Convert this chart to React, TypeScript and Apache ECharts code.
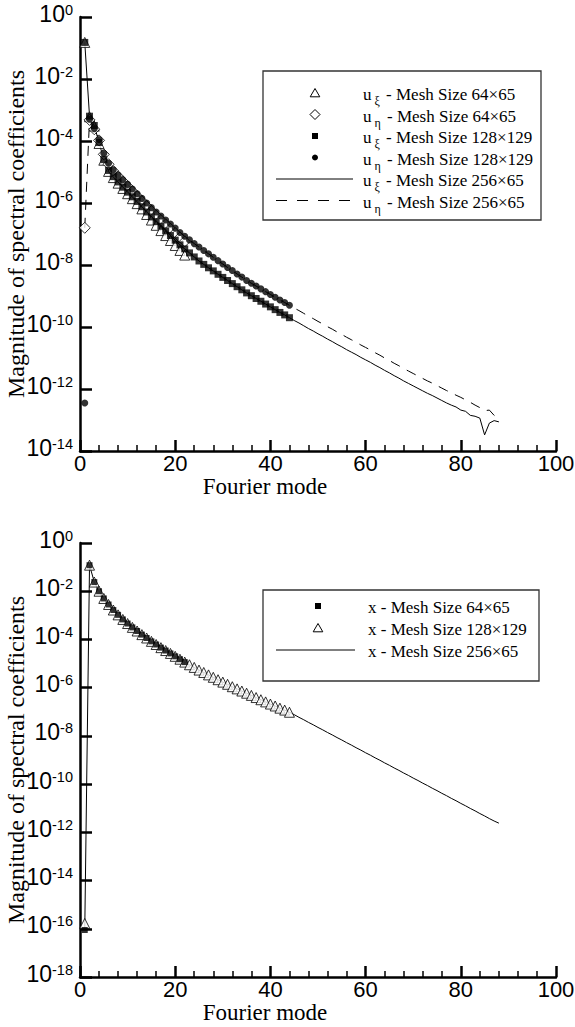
import React, { useEffect, useRef } from "react";
import * as echarts from "echarts";

// Values are log10 of the coefficient magnitude, indexed by Fourier mode 1, 2, 3, ...

// Upper panel: velocity components
const uXi256 = [
  -0.82, -3.2, -3.5, -4.05, -4.6, -4.95, -5.15, -5.32, -5.49, -5.65,
  -5.8, -5.95, -6.12, -6.29, -6.45, -6.6, -6.75, -6.9, -7.05, -7.2,
  -7.35, -7.48, -7.61, -7.74, -7.87, -7.98, -8.09, -8.19, -8.3, -8.4,
  -8.5, -8.6, -8.7, -8.8, -8.9, -8.99, -9.08, -9.17, -9.26, -9.35,
  -9.44, -9.53, -9.61, -9.7, -9.79, -9.87, -9.96, -10.05, -10.13, -10.22,
  -10.3, -10.39, -10.47, -10.56, -10.64, -10.73, -10.81, -10.89, -10.98, -11.06,
  -11.14, -11.23, -11.31, -11.4, -11.48, -11.57, -11.65, -11.74, -11.82, -11.9,
  -11.98, -12.06, -12.14, -12.21, -12.29, -12.37, -12.45, -12.52, -12.58, -12.68,
  -12.72, -12.85, -12.88, -12.94, -13.48, -13.1, -13.02, -13.06,
];
const uEta256 = [
  -6.8, -3.3, -3.6, -3.95, -4.4, -4.72, -4.93, -5.1, -5.25, -5.4,
  -5.55, -5.7, -5.85, -6.0, -6.15, -6.29, -6.42, -6.55, -6.68, -6.81,
  -6.95, -7.07, -7.19, -7.31, -7.42, -7.53, -7.64, -7.75, -7.86, -7.97,
  -8.08, -8.18, -8.29, -8.39, -8.5, -8.59, -8.68, -8.77, -8.86, -8.95,
  -9.04, -9.13, -9.21, -9.3, -9.39, -9.47, -9.56, -9.65, -9.73, -9.82,
  -9.9, -9.99, -10.07, -10.16, -10.24, -10.33, -10.41, -10.49, -10.58, -10.66,
  -10.74, -10.83, -10.91, -11.0, -11.08, -11.17, -11.25, -11.34, -11.42, -11.5,
  -11.58, -11.66, -11.74, -11.81, -11.89, -11.97, -12.05, -12.12, -12.2, -12.27,
  -12.35, -12.43, -12.52, -12.6, -12.7, -12.68, -12.85, -12.98,
];
const uXi128 = [
  -0.82, -3.2, -3.5, -4.05, -4.6, -4.95, -5.15, -5.32, -5.49, -5.65,
  -5.8, -5.95, -6.12, -6.29, -6.45, -6.6, -6.75, -6.9, -7.05, -7.2,
  -7.35, -7.48, -7.61, -7.74, -7.87, -7.98, -8.09, -8.19, -8.3, -8.4,
  -8.5, -8.6, -8.7, -8.8, -8.9, -8.99, -9.08, -9.17, -9.26, -9.35,
  -9.44, -9.53, -9.61, -9.7,
];
const uEta128 = [
  -12.45, -3.3, -3.6, -3.95, -4.4, -4.72, -4.93, -5.1, -5.25, -5.4,
  -5.55, -5.7, -5.85, -6.0, -6.15, -6.29, -6.42, -6.55, -6.68, -6.81,
  -6.95, -7.07, -7.19, -7.31, -7.42, -7.53, -7.64, -7.75, -7.86, -7.97,
  -8.08, -8.18, -8.29, -8.39, -8.5, -8.59, -8.68, -8.77, -8.86, -8.95,
  -9.04, -9.13, -9.21, -9.3,
];
const uXi64 = [
  -0.82, -3.22, -3.52, -4.08, -4.62, -4.98, -5.18, -5.36, -5.53, -5.7,
  -5.86, -6.02, -6.19, -6.37, -6.55, -6.72, -6.89, -7.05, -7.21, -7.37,
  -7.53, -7.68,
];
const uEta64 = [
  -6.8, -3.32, -3.62, -3.98, -4.43, -4.75, -4.97, -5.14, -5.3, -5.46,
  -5.62, -5.78, -5.94, -6.1, -6.26, -6.41, -6.55, -6.69, -6.83, -6.97,
  -7.11, -7.24,
];

// Lower panel: x coordinate
const x256 = [
  -16.05, -0.92, -1.62, -2.0, -2.3, -2.55, -2.78, -2.98, -3.17, -3.34,
  -3.5, -3.65, -3.8, -3.94, -4.08, -4.21, -4.34, -4.46, -4.58, -4.7,
  -4.82, -4.94, -5.05, -5.16, -5.27, -5.37, -5.47, -5.57, -5.67, -5.77,
  -5.86, -5.96, -6.05, -6.14, -6.23, -6.32, -6.41, -6.5, -6.59, -6.68,
  -6.76, -6.85, -6.93, -7.02, -7.12, -7.23, -7.33, -7.44, -7.54, -7.65,
  -7.75, -7.86, -7.96, -8.07, -8.17, -8.28, -8.38, -8.49, -8.59, -8.7,
  -8.8, -8.91, -9.01, -9.12, -9.22, -9.33, -9.43, -9.54, -9.64, -9.75,
  -9.85, -9.96, -10.06, -10.17, -10.27, -10.38, -10.48, -10.59, -10.69, -10.8,
  -10.9, -11.01, -11.11, -11.22, -11.32, -11.43, -11.53, -11.62,
];
const x128 = [
  -15.78, -0.92, -1.62, -2.0, -2.3, -2.55, -2.78, -2.98, -3.17, -3.34,
  -3.5, -3.65, -3.8, -3.94, -4.08, -4.21, -4.34, -4.46, -4.58, -4.7,
  -4.82, -4.94, -5.05, -5.16, -5.27, -5.37, -5.47, -5.57, -5.67, -5.77,
  -5.86, -5.96, -6.05, -6.14, -6.23, -6.32, -6.41, -6.5, -6.59, -6.68,
  -6.76, -6.85, -6.93, -7.02,
];
const x64 = [
  -16.05, -0.92, -1.62, -2.0, -2.3, -2.55, -2.78, -2.98, -3.17, -3.34,
  -3.5, -3.65, -3.8, -3.94, -4.08, -4.21, -4.34, -4.46, -4.58, -4.7,
  -4.82, -4.94,
];

const xTicks = { min: 0, max: 100, interval: 20 };
const topDecades = { min: -14, max: 0, interval: 2 };
const bottomDecades = { min: -18, max: 0, interval: 2 };

const topLegend = [
  { sub: "ξ", text: " - Mesh Size 64×65", mark: "triangle" },
  { sub: "η", text: " - Mesh Size 64×65", mark: "diamond" },
  { sub: "ξ", text: " - Mesh Size 128×129", mark: "square" },
  { sub: "η", text: " - Mesh Size 128×129", mark: "dot" },
  { sub: "ξ", text: " - Mesh Size 256×65", mark: "solid" },
  { sub: "η", text: " - Mesh Size 256×65", mark: "dashed" },
];
const bottomLegend = [
  { text: "x - Mesh Size 64×65", mark: "square" },
  { text: "x - Mesh Size 128×129", mark: "triangle" },
  { text: "x - Mesh Size 256×65", mark: "solid" },
];

const SANS = "Liberation Sans, Arial, sans-serif";
const SERIF = "Liberation Serif, Times New Roman, serif";
const INK = "#000";

const pairs = (vals: number[]) => vals.map((v, i) => [i + 1, v]);

function xAxis(gridIndex: number) {
  return {
    type: "value",
    gridIndex,
    ...xTicks,
    name: "Fourier mode",
    nameLocation: "middle",
    nameGap: 24,
    nameMoveOverlap: false,
    nameTextStyle: { fontFamily: SERIF, fontSize: 23, color: INK, padding: [0, 106, 0, 0] },
    axisLine: { onZero: false, lineStyle: { color: INK, width: 2.5 } },
    axisTick: { inside: true, length: 11, lineStyle: { color: INK, width: 2.5 } },
    minorTick: { show: true, splitNumber: 5, length: 6, lineStyle: { color: INK, width: 1.5 } },
    axisLabel: {
      margin: 1,
      fontFamily: SANS,
      fontSize: 22,
      color: INK,
      hideOverlap: false,
      showMinLabel: true,
      showMaxLabel: true,
    },
    splitLine: { show: false },
    minorSplitLine: { show: false },
  };
}

function yAxis(gridIndex: number, range: { min: number; max: number; interval: number }) {
  return {
    type: "value",
    gridIndex,
    ...range,
    name: "Magnitude of spectral coefficients",
    nameLocation: "middle",
    nameGap: 52,
    nameMoveOverlap: false,
    nameTextStyle: { fontFamily: SERIF, fontSize: 24, color: INK },
    axisLine: { onZero: false, lineStyle: { color: INK, width: 2.5 } },
    axisTick: { inside: true, length: 12, lineStyle: { color: INK, width: 2.5 } },
    axisLabel: {
      margin: 7,
      hideOverlap: false,
      showMinLabel: true,
      showMaxLabel: true,
      formatter: (v: number) => `{b|10}{s|${v}}`,
      rich: {
        b: { fontFamily: SANS, fontSize: 23, lineHeight: 30, verticalAlign: "top", color: INK },
        s: { fontFamily: SANS, fontSize: 14.5, lineHeight: 15, verticalAlign: "top", color: INK },
      },
    },
    splitLine: { show: false },
  };
}

function lineSeries(idx: number, vals: number[], dashed: boolean) {
  return {
    type: "line",
    xAxisIndex: idx,
    yAxisIndex: idx,
    data: pairs(vals),
    symbol: "none",
    silent: true,
    z: 1,
    lineStyle: { color: INK, width: 1, type: dashed ? [10, 8] : "solid" },
  };
}

function scatterSeries(idx: number, vals: number[], shape: string, size: number, open: boolean, z: number) {
  return {
    type: "scatter",
    xAxisIndex: idx,
    yAxisIndex: idx,
    data: pairs(vals),
    symbol: shape,
    symbolSize: size,
    silent: true,
    z,
    itemStyle: open
      ? { color: "#fff", borderColor: INK, borderWidth: 1 }
      : { color: INK, borderWidth: 0 },
  };
}

type LegendRow = { sub?: string; text: string; mark: string };

function legendGraphics(
  rows: LegendRow[],
  box: { x: number; y: number; w: number; h: number },
  firstY: number,
  step: number,
  markX: number,
  lineX1: number,
  lineX2: number,
  textX: number
) {
  const els: any[] = [
    {
      type: "rect",
      shape: { x: box.x, y: box.y, width: box.w, height: box.h },
      style: { fill: "#fff", stroke: "#333", lineWidth: 1.3 },
      z: 10,
    },
  ];
  rows.forEach((row, i) => {
    const y = firstY + step * i;
    const m = row.mark;
    if (m === "triangle") {
      els.push({
        type: "polygon",
        shape: { points: [[markX, y - 4.5], [markX + 4.8, y + 3.8], [markX - 4.8, y + 3.8]] },
        style: { fill: "#fff", stroke: INK, lineWidth: 1 },
        z: 11,
      });
    } else if (m === "diamond") {
      els.push({
        type: "polygon",
        shape: { points: [[markX, y - 5], [markX + 5, y], [markX, y + 5], [markX - 5, y]] },
        style: { fill: "#fff", stroke: INK, lineWidth: 1 },
        z: 11,
      });
    } else if (m === "square") {
      els.push({
        type: "rect",
        shape: { x: markX - 3, y: y - 3, width: 6, height: 6 },
        style: { fill: INK },
        z: 11,
      });
    } else if (m === "dot") {
      els.push({ type: "circle", shape: { cx: markX, cy: y, r: 3 }, style: { fill: INK }, z: 11 });
    } else {
      els.push({
        type: "line",
        shape: { x1: lineX1, y1: y, x2: lineX2, y2: y },
        style: { stroke: INK, lineWidth: 1, lineDash: m === "dashed" ? [11, 10] : null },
        z: 11,
      });
    }
    const text = row.sub != null ? `{m|u}{s|${row.sub}}{m|${row.text}}` : `{m|${row.text}}`;
    els.push({
      type: "text",
      x: textX,
      y: y + 1.5,
      z: 11,
      style: {
        text,
        verticalAlign: "middle",
        fill: INK,
        rich: {
          m: { fontFamily: SERIF, fontSize: 17, lineHeight: 17, verticalAlign: "top", fill: INK },
          s: { fontFamily: SERIF, fontSize: 12, lineHeight: 12, padding: [9, 2, 0, 3], verticalAlign: "top", fill: INK },
        },
      },
    });
  });
  return els;
}

export default function App() {
  const ref = useRef<HTMLDivElement>(null);

  useEffect(() => {
    if (!ref.current) return;
    const chart = echarts.init(ref.current, undefined, { renderer: "svg" });
    chart.setOption({
      animation: false,
      backgroundColor: "#fff",
      grid: [
        { left: 80, top: 17, width: 476, height: 434, containLabel: false, outerBoundsMode: "none" },
        { left: 80, top: 543, width: 476, height: 434, containLabel: false, outerBoundsMode: "none" },
      ],
      xAxis: [xAxis(0), xAxis(1)],
      yAxis: [yAxis(0, topDecades), yAxis(1, bottomDecades)],
      series: [
        lineSeries(0, uXi256, false),
        lineSeries(0, uEta256, true),
        scatterSeries(0, uXi64, "triangle", 10, true, 2),
        scatterSeries(0, uEta64, "diamond", 11, true, 2),
        scatterSeries(0, uXi128, "rect", 7, false, 3),
        scatterSeries(0, uEta128, "circle", 7, false, 3),
        lineSeries(1, x256, false),
        scatterSeries(1, x128, "triangle", 10, true, 2),
        scatterSeries(1, x64, "rect", 6, false, 3),
      ],
      graphic: [
        ...legendGraphics(topLegend, { x: 263, y: 71, w: 278, h: 149 }, 93, 21.5, 315, 276, 353, 363),
        ...legendGraphics(bottomLegend, { x: 263, y: 590, w: 276, h: 91 }, 606, 22, 318, 276, 355, 368),
      ],
    });
    return () => chart.dispose();
  }, []);

  return (
    <div
      ref={ref}
      style={{ position: "absolute", left: 0, top: 0, width: 575, height: 1027, background: "#fff" }}
    />
  );
}
